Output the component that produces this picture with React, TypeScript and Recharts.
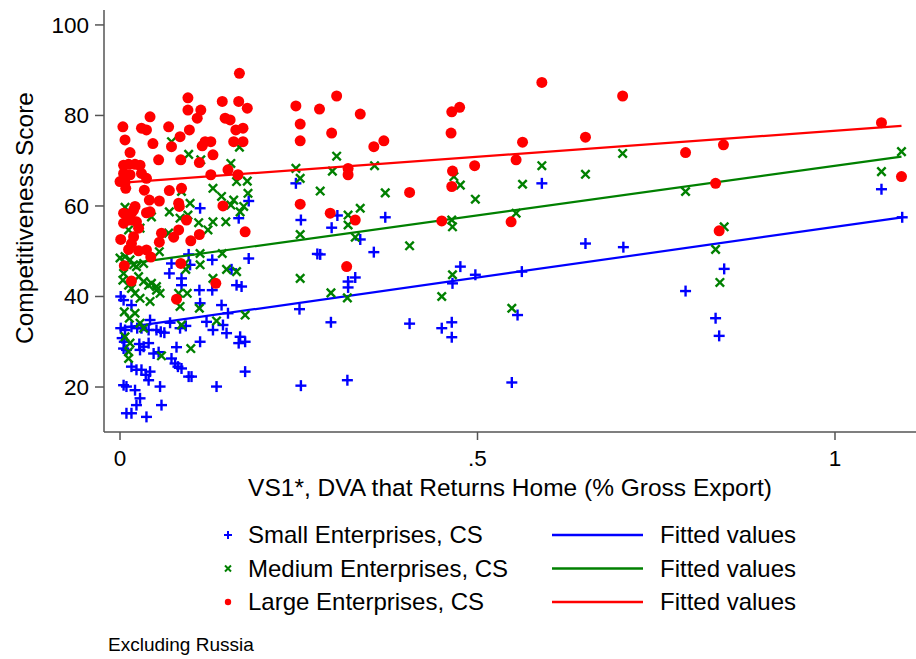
import { ScatterChart, Scatter, XAxis, YAxis } from "recharts"

// values: [VS1*, competitiveness score]
const smallEnterprises: [number, number][] = [
  [0.112, 59.5], [0.166, 57.3], [0.18, 61.1], [0.18, 48.4], [0.096, 49.3], [0.129, 48.1], [0.072, 47.3],
  [0.069, 45.1], [0.086, 44.0], [0.098, 47.0], [0.086, 42.5], [0.156, 46.0], [0.163, 42.5], [0.17, 42.2],
  [0.111, 41.4], [0.129, 41.4], [0.001, 40.0], [0.005, 39.2], [0.016, 38.1], [0.112, 38.5], [0.142, 38.1],
  [0.151, 36.3], [0.001, 33.0], [0.007, 32.6], [0.016, 33.3], [0.024, 33.0], [0.03, 33.0], [0.04, 32.6],
  [0.042, 34.8], [0.051, 32.6], [0.057, 32.2], [0.062, 32.0], [0.07, 34.2], [0.084, 33.0], [0.092, 33.5],
  [0.121, 34.4], [0.13, 32.6], [0.144, 33.7], [0.149, 31.9], [0.168, 31.1], [0.175, 30.0], [0.166, 29.7],
  [0.112, 30.0], [0.079, 28.8], [0.003, 30.8], [0.006, 30.0], [0.005, 28.5], [0.009, 28.2], [0.027, 29.5],
  [0.028, 28.2], [0.033, 28.9], [0.04, 29.7], [0.047, 27.4], [0.054, 27.7], [0.016, 24.5], [0.023, 23.8],
  [0.03, 23.8], [0.036, 22.7], [0.042, 23.4], [0.04, 21.5], [0.072, 26.3], [0.077, 25.2], [0.081, 24.5],
  [0.086, 24.1], [0.096, 22.3], [0.1, 22.3], [0.175, 23.4], [0.005, 20.4], [0.009, 20.1], [0.021, 19.3],
  [0.028, 17.5], [0.023, 16.0], [0.016, 14.2], [0.009, 14.2], [0.037, 13.4], [0.056, 20.1], [0.058, 16.0],
  [0.135, 20.1], [0.246, 65.0], [0.253, 56.9], [0.276, 49.4], [0.251, 37.2], [0.253, 20.3], [0.296, 55.2],
  [0.304, 57.9], [0.371, 57.5], [0.336, 52.6], [0.28, 49.3], [0.355, 49.8], [0.329, 44.2], [0.319, 43.3],
  [0.319, 42.0], [0.295, 34.3], [0.405, 34.0], [0.45, 33.0], [0.464, 34.3], [0.464, 31.0], [0.465, 42.9],
  [0.476, 46.6], [0.497, 44.8], [0.562, 45.5], [0.556, 35.9], [0.59, 65.0], [0.651, 51.7], [0.704, 50.9],
  [0.318, 21.5], [0.548, 21.0], [0.791, 41.2], [0.833, 35.2], [0.838, 31.3], [0.845, 46.1], [1.065, 63.7],
  [1.094, 57.5],
]

const mediumEnterprises: [number, number][] = [
  [0.072, 74.2], [0.096, 71.4], [0.113, 70.2], [0.155, 69.4], [0.167, 73.0], [0.007, 59.7], [0.044, 57.6],
  [0.012, 54.7], [0.028, 55.1], [0.086, 63.2], [0.098, 60.6], [0.069, 58.7], [0.084, 57.3], [0.095, 58.0],
  [0.11, 56.3], [0.123, 54.7], [0.13, 56.5], [0.13, 63.9], [0.142, 62.1], [0.148, 56.5], [0.159, 61.3],
  [0.155, 60.2], [0.173, 59.9], [0.179, 62.8], [0.163, 65.4], [0.178, 65.5], [0.168, 58.7], [0.068, 54.0],
  [0.055, 49.9], [0.0, 48.5], [0.007, 48.8], [0.014, 48.1], [0.019, 47.0], [0.033, 47.3], [0.023, 46.6],
  [0.112, 49.5], [0.143, 49.5], [0.092, 46.0], [0.091, 47.3], [0.112, 47.0], [0.149, 46.0], [0.163, 45.5],
  [0.13, 44.0], [0.005, 45.1], [0.004, 43.6], [0.012, 42.5], [0.016, 41.8], [0.026, 44.4], [0.033, 43.3],
  [0.04, 42.5], [0.044, 42.9], [0.051, 42.2], [0.056, 40.7], [0.021, 40.7], [0.028, 39.6], [0.042, 38.9],
  [0.051, 41.4], [0.082, 40.7], [0.094, 40.7], [0.084, 37.8], [0.111, 37.4], [0.006, 36.6], [0.013, 35.2],
  [0.021, 36.3], [0.028, 34.1], [0.033, 33.0], [0.007, 31.1], [0.014, 29.7], [0.012, 27.8], [0.012, 26.3],
  [0.058, 26.9], [0.099, 28.5], [0.086, 33.7], [0.135, 34.6], [0.175, 35.9], [0.246, 68.3], [0.252, 66.1],
  [0.252, 53.7], [0.252, 44.0], [0.303, 71.0], [0.297, 67.7], [0.356, 68.9], [0.28, 63.3], [0.371, 62.9],
  [0.336, 59.5], [0.319, 58.0], [0.319, 55.8], [0.329, 53.1], [0.405, 51.2], [0.295, 40.8], [0.318, 39.7],
  [0.45, 40.0], [0.465, 44.8], [0.464, 56.9], [0.465, 55.4], [0.467, 66.5], [0.476, 64.6], [0.497, 61.5],
  [0.563, 64.8], [0.59, 68.9], [0.554, 58.4], [0.548, 37.4], [0.651, 67.0], [0.703, 71.6], [0.791, 63.2],
  [0.833, 50.4], [0.845, 55.4], [0.839, 43.1], [1.065, 67.6], [1.093, 72.0],
]

const largeEnterprises: [number, number][] = [
  [0.167, 89.3], [0.095, 83.9], [0.095, 81.2], [0.113, 81.2], [0.108, 79.4], [0.143, 83.1], [0.166, 83.1],
  [0.178, 81.6], [0.147, 79.4], [0.154, 79.0], [0.004, 77.5], [0.03, 77.2], [0.037, 76.8], [0.042, 79.7],
  [0.068, 77.5], [0.084, 75.3], [0.097, 76.8], [0.007, 74.6], [0.046, 73.8], [0.072, 73.1], [0.115, 73.3],
  [0.119, 74.2], [0.127, 74.2], [0.159, 74.2], [0.172, 74.2], [0.162, 76.8], [0.172, 77.2], [0.014, 71.8],
  [0.054, 70.2], [0.085, 70.2], [0.111, 69.6], [0.13, 71.3], [0.005, 69.0], [0.012, 69.2], [0.021, 69.2],
  [0.028, 69.0], [0.005, 67.2], [0.014, 66.9], [0.03, 67.2], [0.037, 66.1], [0.0, 65.4], [0.007, 65.2],
  [0.008, 63.9], [0.034, 63.5], [0.127, 66.9], [0.151, 68.0], [0.165, 66.9], [0.069, 63.4], [0.086, 63.9],
  [0.041, 61.3], [0.055, 61.1], [0.021, 59.9], [0.019, 59.1], [0.005, 58.4], [0.016, 58.4], [0.037, 58.5],
  [0.042, 58.7], [0.082, 60.6], [0.083, 59.9], [0.144, 60.0], [0.093, 56.9], [0.014, 56.9], [0.023, 56.5],
  [0.026, 55.1], [0.005, 56.2], [0.082, 54.7], [0.111, 53.7], [0.175, 54.3], [0.058, 54.0], [0.019, 53.2],
  [0.016, 51.7], [0.001, 52.6], [0.075, 53.1], [0.099, 52.3], [0.055, 52.0], [0.012, 50.4], [0.026, 50.1],
  [0.037, 50.3], [0.043, 48.7], [0.006, 46.8], [0.085, 47.3], [0.016, 43.4], [0.134, 42.9], [0.079, 39.4],
  [0.246, 82.1], [0.252, 78.1], [0.252, 74.4], [0.252, 60.4], [0.279, 81.4], [0.303, 84.3], [0.336, 80.3],
  [0.296, 76.1], [0.355, 73.1], [0.369, 74.4], [0.319, 68.3], [0.319, 66.9], [0.405, 63.0], [0.294, 58.4],
  [0.329, 56.9], [0.317, 46.6], [0.464, 80.8], [0.475, 81.8], [0.463, 76.1], [0.465, 67.7], [0.464, 64.3],
  [0.496, 68.9], [0.45, 56.7], [0.554, 70.2], [0.563, 74.1], [0.547, 56.5], [0.59, 87.3], [0.651, 75.2],
  [0.703, 84.3], [0.791, 71.8], [0.844, 73.5], [0.833, 65.0], [0.838, 54.5], [1.065, 78.4], [1.093, 66.5],
]

// fitted values, end points of each regression line
const smallFit: [number, number][] = [[0.001, 33.0], [1.094, 57.5]]
const mediumFit: [number, number][] = [[0.0, 47.0], [1.093, 70.9]]
const largeFit: [number, number][] = [[0.0, 65.1], [1.093, 77.7]]

const xTicks = [0, 0.5, 1]
const yTicks = [20, 40, 60, 80, 100]

const legendLabels = ["Small Enterprises, CS", "Medium Enterprises, CS", "Large Enterprises, CS"]

const BLUE = "#0000ff"
const GREEN = "#008000"
const RED = "#ff0000"
const FRAME = "#555555"

const toData = (pts: [number, number][]) => pts.map(([x, y]) => ({ x, y }))

const PlusShape = (props: any) => {
  const { cx, cy } = props
  return (
    <g stroke={BLUE} strokeWidth={2.4}>
      <line x1={cx - 5.5} y1={cy} x2={cx + 5.5} y2={cy} />
      <line x1={cx} y1={cy - 5.5} x2={cx} y2={cy + 5.5} />
    </g>
  )
}

const CrossShape = (props: any) => {
  const { cx, cy } = props
  return (
    <g stroke={GREEN} strokeWidth={2.4}>
      <line x1={cx - 4.2} y1={cy - 4.2} x2={cx + 4.2} y2={cy + 4.2} />
      <line x1={cx - 4.2} y1={cy + 4.2} x2={cx + 4.2} y2={cy - 4.2} />
    </g>
  )
}

const DotShape = (props: any) => {
  const { cx, cy } = props
  return <circle cx={cx} cy={cy} r={5.5} fill={RED} />
}

const NoShape = () => <g />

const formatX = (v: number) => (v === 0 ? "0" : v === 1 ? "1" : String(v).replace(/^0/, ""))

function LegendBlock() {
  const colors = [BLUE, GREEN, RED]
  return (
    <svg width={916} height={140} style={{ position: "absolute", left: 0, top: 510 }}>
      {legendLabels.map((label, i) => {
        const cy = 25 + i * 33.5
        const c = colors[i]
        return (
          <g key={label}>
            {i === 0 && (
              <g stroke={c} strokeWidth={2}>
                <line x1={224} y1={cy} x2={232} y2={cy} />
                <line x1={228} y1={cy - 4} x2={228} y2={cy + 4} />
              </g>
            )}
            {i === 1 && (
              <g stroke={c} strokeWidth={2}>
                <line x1={225} y1={cy - 3} x2={231} y2={cy + 3} />
                <line x1={225} y1={cy + 3} x2={231} y2={cy - 3} />
              </g>
            )}
            {i === 2 && <circle cx={228} cy={cy} r={3.2} fill={c} />}
            <text x={248} y={cy} dy="0.35em" fontSize={24} fill="#000">
              {label}
            </text>
            <line x1={552} y1={cy} x2={643} y2={cy} stroke={c} strokeWidth={2.5} />
            <text x={660} y={cy} dy="0.35em" fontSize={24} fill="#000">
              Fitted values
            </text>
          </g>
        )
      })}
    </svg>
  )
}

export default function App() {
  return (
    <div
      style={{
        position: "absolute",
        left: 0,
        top: 0,
        width: 916,
        height: 659,
        background: "#fff",
        fontFamily: "'Liberation Sans', Arial, sans-serif",
      }}
    >
      <ScatterChart width={916} height={659} margin={{ top: 10, right: 0, bottom: 187, left: 0 }}>
        <XAxis
          type="number"
          dataKey="x"
          domain={[-0.0224, 1.1133]}
          allowDataOverflow
          ticks={xTicks}
          tickFormatter={formatX}
          height={40}
          tickSize={8}
          tickMargin={10}
          stroke={FRAME}
          strokeWidth={1.5}
          tick={{ fill: "#000", fontSize: 22.5 }}
          label={{
            content: (p: any) => (
              <text
                x={p.viewBox.x + p.viewBox.width / 2}
                y={487}
                dy="0.35em"
                textAnchor="middle"
                fontSize={24.5}
                fill="#000"
              >
                VS1*, DVA that Returns Home (% Gross Export)
              </text>
            ),
          }}
        />
        <XAxis
          xAxisId="top"
          orientation="top"
          type="number"
          dataKey="x"
          domain={[-0.0224, 1.1133]}
          allowDataOverflow
          height={0}
          tick={false}
          tickLine={false}
          stroke={FRAME}
          strokeWidth={1.5}
        />
        <YAxis
          type="number"
          dataKey="y"
          domain={[10.06, 103.3]}
          allowDataOverflow
          ticks={yTicks}
          width={104}
          tickSize={9}
          tickMargin={6}
          stroke={FRAME}
          strokeWidth={1.5}
          tick={{ fill: "#000", fontSize: 22.5 }}
          label={{
            content: (p: any) => {
              const x = 24
              const y = p.viewBox.y + p.viewBox.height / 2 - 3
              return (
                <text
                  x={x}
                  y={y}
                  dy="0.35em"
                  textAnchor="middle"
                  fontSize={24.5}
                  fill="#000"
                  transform={`rotate(-90, ${x}, ${y})`}
                >
                  Competitiveness Score
                </text>
              )
            },
          }}
        />
        <Scatter data={toData(smallEnterprises)} shape={PlusShape} isAnimationActive={false} />
        <Scatter
          data={toData(smallFit)}
          shape={NoShape}
          line={{ stroke: BLUE, strokeWidth: 2.2 }}
          lineType="joint"
          isAnimationActive={false}
        />
        <Scatter data={toData(mediumEnterprises)} shape={CrossShape} isAnimationActive={false} />
        <Scatter
          data={toData(mediumFit)}
          shape={NoShape}
          line={{ stroke: GREEN, strokeWidth: 2.2 }}
          lineType="joint"
          isAnimationActive={false}
        />
        <Scatter data={toData(largeEnterprises)} shape={DotShape} isAnimationActive={false} />
        <Scatter
          data={toData(largeFit)}
          shape={NoShape}
          line={{ stroke: RED, strokeWidth: 2.2 }}
          lineType="joint"
          isAnimationActive={false}
        />
      </ScatterChart>
      <LegendBlock />
      <div style={{ position: "absolute", left: 108, top: 634, fontSize: 19, lineHeight: "22px", color: "#000" }}>
        Excluding Russia
      </div>
    </div>
  )
}
